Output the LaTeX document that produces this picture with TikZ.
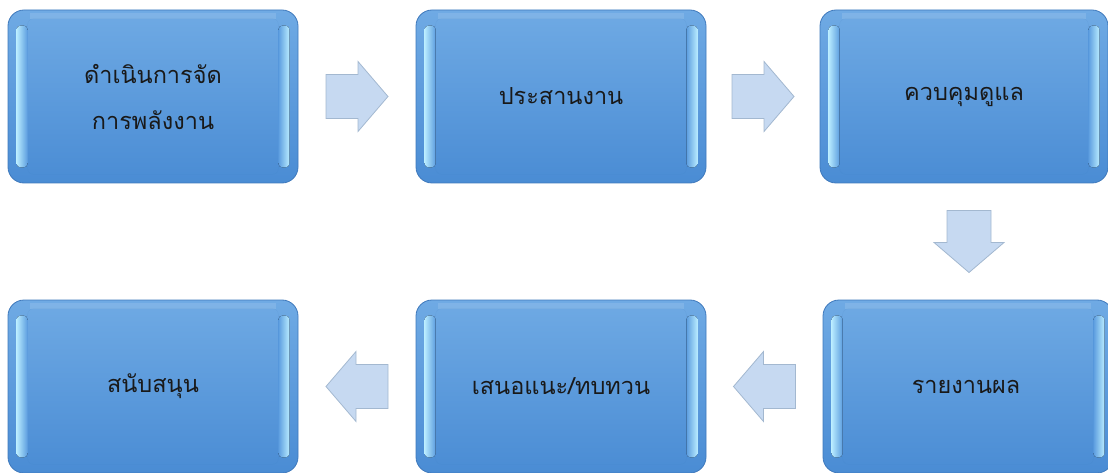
\documentclass[tikz,border=0pt]{standalone}
\usepackage{fontspec}
\newfontfamily\thaifont[Script=Thai]{Loma}
\usetikzlibrary{calc}
\definecolor{boxtop}{HTML}{6FAAE4}
\definecolor{boxmid}{HTML}{5C9DDF}
\definecolor{boxbot}{HTML}{4A8CD4}
\definecolor{boxedge}{HTML}{3F79BC}
\definecolor{hl}{HTML}{B8EBFF}
\definecolor{arrfill}{HTML}{C6D9F1}
\definecolor{arredge}{HTML}{A3B8D0}
\tikzset{
  box/.style={rounded corners=16pt, draw=boxedge, line width=0.8pt,
    top color=boxtop, bottom color=boxbot, minimum width=290pt,
    minimum height=173pt, inner sep=0pt, align=center},
  boxtext/.style={font=\thaifont\fontsize{23.5}{46}\selectfont, align=center, text=black!90},
  barrow/.style={fill=arrfill, draw=arredge, line width=0.8pt, line join=miter},
  blockarrow/.pic={\draw[barrow] (-31,-22) -- (1,-22) -- (1,-35) -- (31,0)
     -- (1,35) -- (1,22) -- (-31,22) -- cycle;}
}
\newcommand\bevelbox[1]{%
  \fill[left color=hl, right color=boxmid, rounded corners=4pt]
    ($(#1.north west)+(9,16)$) rectangle ($(#1.south west)+(20,-16)$);
  \fill[right color=hl, left color=boxmid, rounded corners=4pt]
    ($(#1.north east)+(-20,16)$) rectangle ($(#1.south east)+(-9,-16)$);
  \fill[white, opacity=0.12]
    ($(#1.north west)+(22,3)$) rectangle ($(#1.north east)+(-22,9)$);
  \draw[boxedge, opacity=0.12, rounded corners=6pt]
    ($(#1.north west)+(20,9)$) rectangle ($(#1.south east)+(-20,-9)$);
}
\begin{document}
\begin{tikzpicture}[x=1pt,y=-1pt]
\useasboundingbox (0,0) rectangle (1108,473);
\node[box] (b1) at (153,96.5) {};
\node[box] (b2) at (561,96.5) {};
\node[box, minimum width=288pt] (b3) at (964,96.5) {};
\node[box] (b4) at (153,386.5) {};
\node[box] (b5) at (561,386.5) {};
\node[box] (b6) at (968,386.5) {};
\foreach \b in {b1,b2,b3,b4,b5,b6}{\bevelbox{\b}}
\node[boxtext] (t1) at (b1) {ดำเนินการจัด\\การพลังงาน};
\node[boxtext] (t2) at (b2) {ประสานงาน};
\node[boxtext] (t3) at (b3) {ควบคุมดูแล};
\node[boxtext] (t4) at (b4) {สนับสนุน};
\node[boxtext] (t5) at (b5) {เสนอแนะ/ทบทวน};
\node[boxtext] (t6) at ($(b6)+(-2,0)$) {รายงานผล};
\pic at ($(b1.east)!0.5!(b2.west)$) {blockarrow};
\pic at ($(b2.east)!0.5!(b3.west)$) {blockarrow};
\pic[rotate=-90] at ($(b3.south)!0.5!(b6.north)+(3,0)$) {blockarrow};
\pic[rotate=180] at ($(b6.west)!0.5!(b5.east)$) {blockarrow};
\pic[rotate=180] at ($(b5.west)!0.5!(b4.east)$) {blockarrow};
\end{tikzpicture}
\end{document}
